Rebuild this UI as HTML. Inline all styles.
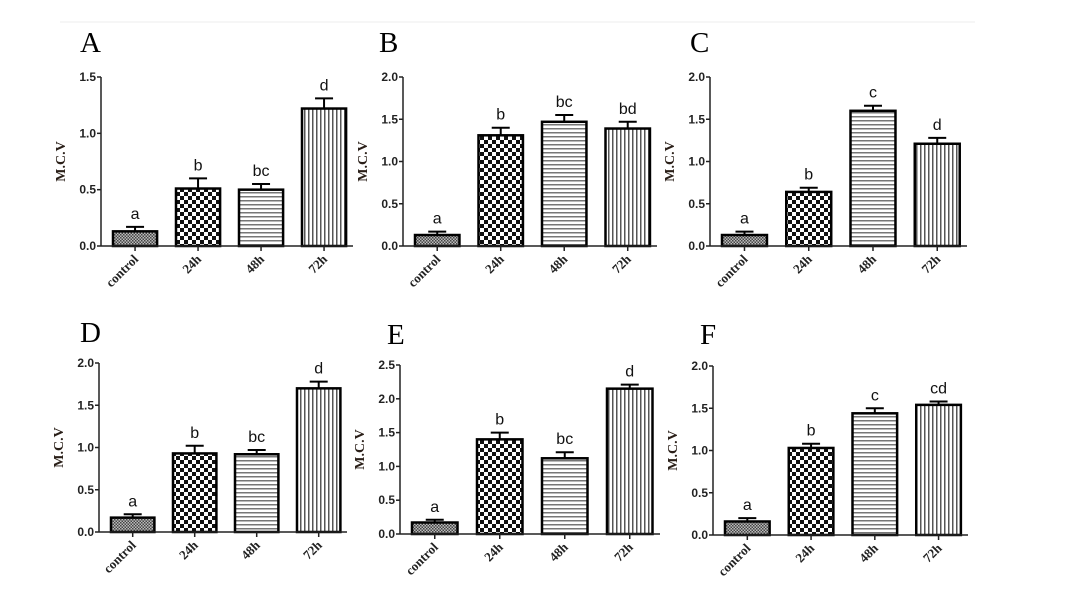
<!DOCTYPE html>
<html><head><meta charset="utf-8">
<style>
html,body{margin:0;padding:0;background:#fff;}
svg{display:block;}
</style></head>
<body>
<svg id="fig" width="1069" height="600" viewBox="0 0 1069 600" xmlns="http://www.w3.org/2000/svg">
<defs>
<pattern id="pCtrl" width="3" height="3" patternUnits="userSpaceOnUse"><rect width="3" height="3" fill="#bbb"/><rect width="1.5" height="1.5" fill="#444"/><rect x="1.5" y="1.5" width="1.5" height="1.5" fill="#444"/></pattern>
<pattern id="p24" width="8" height="8" patternUnits="userSpaceOnUse"><rect width="8" height="8" fill="#fff"/><rect width="4" height="4" fill="#111"/><rect x="4" y="4" width="4" height="4" fill="#111"/></pattern>
<pattern id="p48" width="4" height="4" patternUnits="userSpaceOnUse"><rect width="4" height="4" fill="#fff"/><rect width="4" height="1.5" fill="#777"/></pattern>
<pattern id="p72" width="4" height="4" patternUnits="userSpaceOnUse"><rect width="4" height="4" fill="#fff"/><rect width="1.5" height="4" fill="#555"/></pattern>
</defs>
<line x1="60" y1="22" x2="975" y2="22" stroke="#eee" stroke-width="1"/>
</svg>
<script>
const categories = ["control","24h","48h","72h"];
const panelLabels = ["A","B","C","D","E","F"];
const valuesA = [0.13,0.51,0.50,1.22];
const errorsA = [0.04,0.09,0.05,0.09];
const lettersA = ["a","b","bc","d"];
const valuesB = [0.13,1.31,1.47,1.39];
const errorsB = [0.04,0.09,0.08,0.08];
const lettersB = ["a","b","bc","bd"];
const valuesC = [0.13,0.64,1.60,1.21];
const errorsC = [0.04,0.05,0.06,0.07];
const lettersC = ["a","b","c","d"];
const valuesD = [0.17,0.93,0.92,1.70];
const errorsD = [0.04,0.09,0.05,0.08];
const lettersD = ["a","b","bc","d"];
const valuesE = [0.17,1.40,1.12,2.15];
const errorsE = [0.04,0.10,0.09,0.06];
const lettersE = ["a","b","bc","d"];
const valuesF = [0.16,1.03,1.44,1.54];
const errorsF = [0.04,0.05,0.06,0.04];
const lettersF = ["a","b","c","cd"];
const yMaxes = [1.5,2.0,2.0,2.0,2.5,2.0];
const yTicksA = ["0.0","0.5","1.0","1.5"];
const yTicks2 = ["0.0","0.5","1.0","1.5","2.0"];
const yTicks25 = ["0.0","0.5","1.0","1.5","2.0","2.5"];

const allValues=[valuesA,valuesB,valuesC,valuesD,valuesE,valuesF];
const allErrors=[errorsA,errorsB,errorsC,errorsD,errorsE,errorsF];
const allLetters=[lettersA,lettersB,lettersC,lettersD,lettersE,lettersF];
const allTicks=[yTicksA,yTicks2,yTicks2,yTicks2,yTicks25,yTicks2];
const layout=[[101,77,246,353,80,52],[403,77,246,657,379,52],[710,77,246,967,690,52],
              [99,363,532,347,80,342],[400,365,534,660,387,344],[713,366,535,968,700,344]];
const fills=["url(#pCtrl)","url(#p24)","url(#p48)","url(#p72)"];
const NS="http://www.w3.org/2000/svg";
const svg=document.getElementById("fig");
function mk(tag,attrs,parent){const e=document.createElementNS(NS,tag);for(const k in attrs)e.setAttribute(k,attrs[k]);(parent||svg).appendChild(e);return e;}

for(let p=0;p<6;p++){
  const [ax,top,zero,right,lx,ly]=layout[p];
  const yMax=yMaxes[p];
  const y=v=>zero-(v/yMax)*(zero-top);
  const step=(right-ax)/4;
  const x=i=>ax+12+step*i;
  const bw=step*0.7;
  const g=mk("g",{});
  
  
  const t=mk("text",{x:lx,y:ly,"font-family":"Liberation Serif, serif","font-size":"29"},g);
  t.textContent=panelLabels[p];
  
  
  const yt=mk("text",{x:0,y:0,transform:`translate(${ax-36},${(top+zero)/2}) rotate(-90)`,"text-anchor":"middle","font-family":"Liberation Serif, serif","font-weight":"bold","font-size":"14",fill:"#2a1f18"},g);
  yt.textContent="M.C.V";
  
  
  const vals=allValues[p],errs=allErrors[p],lets=allLetters[p];
  for(let i=0;i<4;i++){
    const bx=x(i),by=y(vals[i]),et=y(vals[i]+errs[i]),cx=bx+bw/2;
    const el=mk("line",{x1:cx,y1:by,x2:cx,y2:et,stroke:"#000","stroke-width":2},g);
    
    
    const ec=mk("line",{x1:cx-9,y1:et,x2:cx+9,y2:et,stroke:"#000","stroke-width":2},g);
    
    
    const r=mk("rect",{x:bx,y:by,width:bw,height:zero-by,fill:fills[i],stroke:"#000","stroke-width":2.5},g);
    
    
    const lt=mk("text",{x:cx,y:et-8,"text-anchor":"middle","font-family":"Liberation Sans, sans-serif","font-size":"16",fill:"#111"},g);
    lt.textContent=lets[i];
    
    
    const tk=mk("line",{x1:cx,y1:zero,x2:cx,y2:zero+5,stroke:"#222","stroke-width":1.5},g);
    
    
    const xl=mk("text",{x:0,y:0,transform:`translate(${cx+4},${zero+14}) rotate(-45)`,"text-anchor":"end","font-family":"Liberation Serif, serif","font-weight":"bold","font-size":"13",fill:"#222"},g);
    xl.textContent=categories[i];
    
    
  }
  const ya=mk("line",{x1:ax,y1:top,x2:ax,y2:zero,stroke:"#222","stroke-width":1.5},g);
  
  
  const xa=mk("line",{x1:ax,y1:zero,x2:right,y2:zero,stroke:"#222","stroke-width":1.5},g);
  
  
  const ticks=allTicks[p];
  for(const tl of ticks){
    const v=parseFloat(tl),ty=y(v);
    const tk=mk("line",{x1:ax-4,y1:ty,x2:ax,y2:ty,stroke:"#222","stroke-width":1.5},g);
    
    
    const tx=mk("text",{x:ax-5,y:ty+4,"text-anchor":"end","font-family":"Liberation Sans, sans-serif","font-weight":"bold","font-size":"12",fill:"#222"},g);
    tx.textContent=tl;
    
    
  }
}
</script>
</body></html>
